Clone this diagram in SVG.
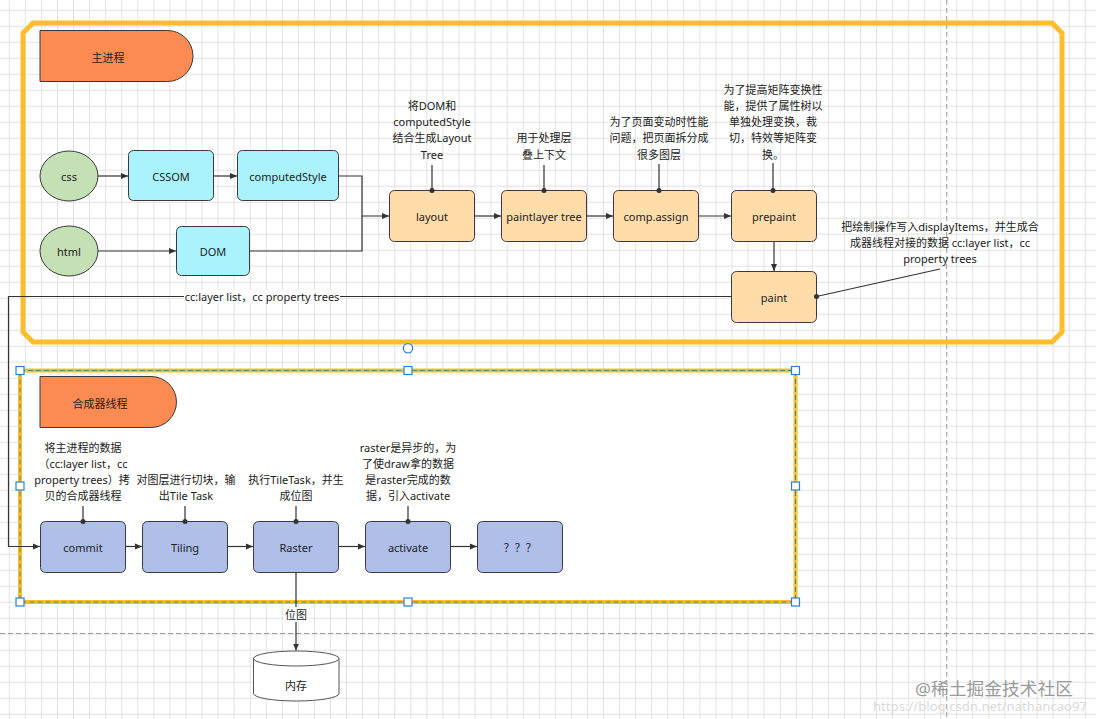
<svg xmlns="http://www.w3.org/2000/svg" width="1096" height="719" viewBox="0 0 1096 719">
<style>
text{font-family:"Noto Sans","Noto Sans CJK SC",sans-serif;font-size:11px;fill:#222;text-anchor:middle;dominant-baseline:central}
.n{stroke:#3a3a3a;stroke-width:1}
.g{fill:#C5E0B4}.c{fill:#AAF3FC}.o{fill:#FFDCAA}.b{fill:#AFBFEA}.t{fill:#FC8B53}
.e{fill:none;stroke:#333;stroke-width:1.2}
.h{fill:#fff;stroke:#2b7fd0;stroke-width:1.2}
.d{fill:#333}
</style>
<defs>
<pattern id="grid" width="16.06" height="16" patternUnits="userSpaceOnUse" x="8.8" y="9.7">
<path d="M0.5,0V16M0,0.5H16.06" fill="none" stroke="#e2e2e2" stroke-width="1"/>
</pattern>
<marker id="ar" markerWidth="8" markerHeight="8" refX="7" refY="4" orient="auto" markerUnits="userSpaceOnUse">
<path d="M0,1 L7,4 L0,7 Z" fill="#333"/>
</marker>
</defs>
<rect width="1096" height="719" fill="#fff"/>
<rect width="1096" height="719" fill="url(#grid)"/>
<g id="page-breaks" stroke="#9a9a9a" stroke-width="1" stroke-dasharray="5,3" fill="none">
<path d="M946.7,0V719"/>
<path d="M0,633.5H1096"/>
</g>
<g id="main-frame">
<path d="M33,23H1052L1062,33V332L1052,342H33L23,332V33Z" fill="none" stroke="#FDBD2D" stroke-width="5"/>
</g>
<g id="compositor-frame">
<rect x="20" y="370.5" width="775.5" height="231.5" fill="#fff" stroke="#FDBD2D" stroke-width="4"/>
<rect x="20" y="370.5" width="775.5" height="231.5" fill="none" stroke="#3d8a80" stroke-width="1" stroke-dasharray="5,3"/>
</g>
<g id="main-title">
<path class="t n" d="M40,30.5H167.5A25.5,25.5 0 0 1 167.5,81.5H40Z"/>
<text x="108" y="57">主进程</text>
</g>
<g id="css"><ellipse class="g n" cx="69" cy="176" rx="29" ry="25"/><text x="69" y="176">css</text></g>
<g id="html"><ellipse class="g n" cx="69" cy="251" rx="29" ry="25"/><text x="69" y="251">html</text></g>
<g id="cssom"><rect class="c n" x="128.5" y="150.5" width="85" height="50" rx="5"/><text x="171" y="176">CSSOM</text></g>
<g id="computedStyle"><rect class="c n" x="237.5" y="150.5" width="101" height="50" rx="5"/><text x="288" y="176">computedStyle</text></g>
<g id="dom"><rect class="c n" x="176.5" y="226.5" width="73" height="49" rx="5"/><text x="213" y="251">DOM</text></g>
<g id="layout"><rect class="o n" x="389.5" y="190.5" width="85" height="51" rx="5"/><text x="432" y="216">layout</text></g>
<g id="paintlayer"><rect class="o n" x="501.5" y="190.5" width="85" height="51" rx="5"/><text x="544" y="216">paintlayer tree</text></g>
<g id="compassign"><rect class="o n" x="613.5" y="190.5" width="85" height="51" rx="5"/><text x="656" y="216">comp.assign</text></g>
<g id="prepaint"><rect class="o n" x="731.5" y="190.5" width="85" height="51" rx="5"/><text x="774" y="216">prepaint</text></g>
<g id="paint"><rect class="o n" x="731.5" y="271.5" width="85" height="51" rx="5"/><text x="774" y="297">paint</text></g>
<g id="compositor-title">
<path class="t n" d="M40,376.5H151A25.5,25.5 0 0 1 151,427.5H40Z"/>
<text x="100" y="403">合成器线程</text>
</g>
<g id="commit"><rect class="b n" x="40.5" y="521.5" width="85" height="51" rx="5"/><text x="83" y="547">commit</text></g>
<g id="tiling"><rect class="b n" x="142.5" y="521.5" width="85" height="51" rx="5"/><text x="185" y="547">Tiling</text></g>
<g id="raster"><rect class="b n" x="253.5" y="521.5" width="85" height="51" rx="5"/><text x="296" y="547">Raster</text></g>
<g id="activate"><rect class="b n" x="365.5" y="521.5" width="85" height="51" rx="5"/><text x="408" y="547">activate</text></g>
<g id="unknown"><rect class="b n" x="477.5" y="521.5" width="85" height="51" rx="5"/><text x="520" y="547">？？？</text></g>
<g id="memory">
<path d="M253.5,658.5V693.5A42.75,7.5 0 0 0 339,693.5V658.5" fill="#fff" stroke="#555" stroke-width="1"/>
<ellipse cx="296.25" cy="658.5" rx="42.75" ry="7.5" fill="#fff" stroke="#555" stroke-width="1"/>
<text x="296" y="685">内存</text>
</g>
<g id="notes">
<text x="432" y="105">将DOM和</text><text x="432" y="121.5">computedStyle</text><text x="432" y="137.5">结合生成Layout</text><text x="432" y="154">Tree</text>
<text x="544" y="137.5">用于处理层</text><text x="544" y="154">叠上下文</text>
<text x="659" y="121.5">为了页面变动时性能</text><text x="659" y="137.5">问题，把页面拆分成</text><text x="659" y="154">很多图层</text>
<text x="773" y="89">为了提高矩阵变换性</text><text x="773" y="105">能，提供了属性树以</text><text x="773" y="121.5">单独处理变换，裁</text><text x="773" y="137.5">切，特效等矩阵变</text><text x="773" y="154">换。</text>
<text x="940" y="226">把绘制操作写入displayItems，并生成合</text><text x="940" y="242.5">成器线程对接的数据 cc:layer list，cc</text><text x="940" y="258.5">property trees</text>
<text x="83" y="447.5">将主进程的数据</text><text x="83" y="463.5">（cc:layer list，cc</text><text x="82" y="479.5">property trees）拷</text><text x="83" y="495.5">贝的合成器线程</text>
<text x="186" y="479.5">对图层进行切块，输</text><text x="186" y="495.5">出Tile Task</text>
<text x="296" y="479.5">执行TileTask，并生</text><text x="296" y="495.5">成位图</text>
<text x="408" y="447.5">raster是异步的，为</text><text x="408" y="463.5">了使draw拿的数据</text><text x="408" y="479.5">是raster完成的数</text><text x="408" y="495.5">据，引入activate</text>
</g>
<g id="connectors">
<path class="e" d="M98,176H128" marker-end="url(#ar)"/>
<path class="e" d="M213.5,176H237" marker-end="url(#ar)"/>
<path class="e" d="M98,251H176" marker-end="url(#ar)"/>
<path class="e" d="M338.5,176H362V216H389" marker-end="url(#ar)"/>
<path class="e" d="M249.5,251H362V216"/>
<path class="e" d="M474.5,216H501" marker-end="url(#ar)"/>
<path class="e" d="M586.5,216H613" marker-end="url(#ar)"/>
<path class="e" d="M698.5,216H731" marker-end="url(#ar)"/>
<path class="e" d="M774,241.5V271" marker-end="url(#ar)"/>
<path class="e" d="M731.5,296.5H8.5V546.5H40" marker-end="url(#ar)"/>
<rect x="184" y="290" width="156" height="13" fill="#fff"/>
<text x="262" y="296.5">cc:layer list，cc property trees</text>
<path class="e" d="M125.5,546.5H142" marker-end="url(#ar)"/>
<path class="e" d="M227.5,546.5H253" marker-end="url(#ar)"/>
<path class="e" d="M338.5,546.5H365" marker-end="url(#ar)"/>
<path class="e" d="M450.5,546.5H477" marker-end="url(#ar)"/>
<path class="e" d="M296,572.5V650.5" marker-end="url(#ar)"/>
<rect x="284" y="607" width="24" height="15" fill="#fff"/>
<text x="296" y="614.5">位图</text>
<path class="e" d="M432,165V190M544,165V190M659,164V190M773,163V190"/>
<path class="e" d="M816.5,296.5L940,269"/>
<path class="e" d="M83,506V521.5M185,506V521.5M296,506V521.5M408,506V521.5"/>
<circle class="d" cx="432" cy="190.5" r="2.5"/><circle class="d" cx="544" cy="190.5" r="2.5"/><circle class="d" cx="659" cy="190.5" r="2.5"/><circle class="d" cx="773" cy="190.5" r="2.5"/>
<circle class="d" cx="816.5" cy="296.5" r="2.5"/>
<circle class="d" cx="83" cy="521.5" r="2.5"/><circle class="d" cx="185" cy="521.5" r="2.5"/><circle class="d" cx="296" cy="521.5" r="2.5"/><circle class="d" cx="408" cy="521.5" r="2.5"/>
</g>
<g id="selection-handles">
<circle class="h" cx="408" cy="348.3" r="4.7"/>
<rect class="h" x="16" y="366.5" width="8" height="8"/><rect class="h" x="404" y="366.5" width="8" height="8"/><rect class="h" x="791.5" y="366.5" width="8" height="8"/>
<rect class="h" x="16" y="482" width="8" height="8"/><rect class="h" x="791.5" y="482" width="8" height="8"/>
<rect class="h" x="16" y="598" width="8" height="8"/><rect class="h" x="404" y="598" width="8" height="8"/><rect class="h" x="791.5" y="598" width="8" height="8"/>
</g>
<g id="watermark">
<text x="994" y="688" textLength="158" lengthAdjust="spacingAndGlyphs" style="font-size:17px;fill:#9a9a9a">@稀土掘金技术社区</text>
<text x="980" y="706" textLength="214" lengthAdjust="spacingAndGlyphs" style="font-size:12px;fill:#dadada">https://blog.csdn.net/nathancao97</text>
</g>
</svg>
